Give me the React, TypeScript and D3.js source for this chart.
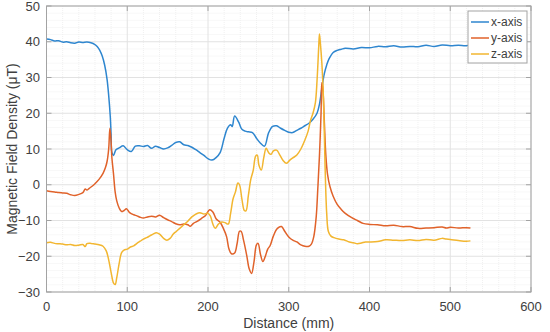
import * as d3 from 'd3';

const WIDTH = 550;
const HEIGHT = 332;
const MARGIN = { top: 6, right: 19, bottom: 40, left: 46.5 };

// x-axis component (blue)
const xDist = [0, 5, 10, 15, 20, 25, 30, 35, 40, 45, 50, 55, 60, 63, 66, 69, 72, 75, 77, 79, 80, 81, 83, 86, 90, 95, 100, 105, 110, 115, 120, 125, 130, 135, 140, 145, 150, 155, 160, 165, 170, 175, 180, 185, 190, 195, 200, 205, 210, 215, 220, 224, 228, 230, 233, 238, 242, 246, 250, 255, 260, 265, 270, 275, 280, 285, 290, 295, 300, 305, 310, 315, 320, 325, 330, 335, 338, 341, 344, 347, 350, 355, 360, 365, 370, 380, 390, 400, 410, 420, 430, 440, 450, 460, 470, 480, 490, 500, 510, 520, 525];
const xVals = [40.8, 40.6, 40.2, 40.3, 39.9, 40.0, 39.7, 39.6, 39.9, 39.8, 39.9, 39.7, 39.2, 38.6, 37.6, 36.0, 33.5, 29.5, 25, 19, 14, 9, 8.2, 9.8, 10.3, 10.9, 9.8, 9.3, 10.8, 10.9, 10.7, 11.0, 10.2, 10.8, 10.4, 10.0, 10.3, 11.0, 11.8, 12.0, 11.2, 11.0, 10.5, 9.8, 9.0, 8.2, 7.3, 6.9, 7.6, 9.0, 13.0, 15.8, 16.8, 16.3, 19.2, 17.5, 15.5, 15.0, 14.8, 14.6, 13.0, 11.6, 10.8, 14.5, 16.3, 16.5, 15.8, 15.2, 14.7, 14.6, 15.2, 15.8, 16.5, 17.2, 18.3, 20.0, 22.5, 27, 31, 33.5, 35.3, 37.0, 37.6, 37.9, 38.2, 38.0, 38.4, 38.3, 38.7, 38.6, 38.9, 38.5, 38.7, 38.6, 39.0, 38.7, 39.1, 38.9, 39.0, 38.9, 39.2];

// y-axis component (orange)
const yDist = [0, 5, 10, 15, 20, 25, 30, 35, 40, 45, 48, 50, 53, 56, 60, 65, 70, 73, 75, 77, 78.5, 80, 81, 83, 85, 87, 90, 93, 96, 99, 103, 108, 112, 116, 120, 125, 130, 135, 140, 145, 150, 155, 160, 165, 170, 175, 178, 182, 187, 192, 197, 202, 206, 210, 215, 219, 223, 226, 229, 233, 236, 239, 241, 244, 248, 251, 254, 257, 260, 262, 265, 268, 271, 274, 277, 281, 286, 291, 295, 300, 305, 310, 315, 320, 325, 328, 331, 334, 336, 338, 340, 341, 342, 344, 346, 348, 351, 355, 360, 365, 370, 378, 385, 392, 400, 410, 420, 430, 440, 450, 460, 470, 480, 490, 495, 500, 510, 520, 525];
const yVals = [-1.7, -1.9, -2.0, -2.2, -2.3, -2.4, -2.8, -3.0, -2.7, -2.2, -1.2, -1.5, -1.0, -0.5, 0.3, 1.5, 3.2, 4.8, 6.5, 10, 15.8, 12, 7.5, 3, -2, -4.5, -6.5, -7.5, -7.2, -6.7, -7.8, -8.4, -8.7, -9.1, -9.3, -9.0, -8.8, -9.0, -8.5, -9.2, -9.8, -10.3, -10.9, -11.2, -11.0, -11.2, -11.6, -10.8, -10.2, -9.4, -8.6, -7.0, -7.6, -9.5, -10.5, -12.2, -14.5, -18.0, -19.3, -19.1, -16.5, -13.0, -13.0, -15.5, -19.8, -23.5, -24.8, -21.5, -16.8, -16.4, -19.5, -21.5, -20.0, -18.0, -17.0, -14.3, -12.2, -11.7, -13, -14.6, -15.5, -16.0, -16.8, -17.2, -17.2, -16.6, -14.5, -9, -1, 8, 20, 28.5, 27.5, 18, 8, 3, -0.5, -3.2, -5.5, -6.9, -8.0, -9.2, -10.0, -10.8, -11.1, -11.2, -11.5, -11.3, -11.7, -11.7, -12.2, -12.1, -12.0, -11.8, -12.1, -11.9, -12.1, -12.0, -12.1];

// z-axis component (yellow)
const zDist = [0, 5, 10, 15, 20, 25, 30, 35, 40, 45, 48, 50, 55, 60, 65, 70, 74, 77, 80, 83, 85, 87, 90, 93, 96, 100, 104, 108, 112, 116, 120, 124, 128, 132, 136, 140, 145, 149, 153, 157, 161, 165, 170, 175, 180, 185, 190, 195, 200, 203, 206, 209, 213, 217, 221, 225, 228, 231, 234, 237, 239, 242, 245, 247, 250, 253, 256, 259, 261, 263, 266, 269, 272, 275, 278, 281, 285, 289, 293, 297, 301, 305, 310, 315, 320, 324, 327, 330, 333, 335, 337, 338, 339, 341, 343, 345, 347, 349, 352, 356, 362, 368, 375, 380, 385, 390, 395, 400, 410, 420, 430, 440, 450, 460, 470, 480, 490, 495, 500, 510, 520, 525];
const zVals = [-16.2, -16.1, -16.4, -16.5, -16.6, -16.8, -16.7, -17.0, -16.9, -16.7, -17.3, -16.5, -16.4, -16.6, -16.8, -17.2, -18.5, -21, -24.5, -27.5, -27.9, -26, -22, -19, -18.3, -18.0, -17.4, -17.1, -16.4, -15.8, -15.2, -14.8, -14.3, -13.8, -13.4, -13.8, -15.0, -15.5, -15.0, -13.8, -13.0, -12.2, -11.2, -10.2, -9.0, -8.2, -7.8, -8.2, -8.0, -8.8, -11.0, -12.2, -11.0, -10.4, -10.6, -11.0, -8, -4, -2, 0.5, 0, -4, -7.2, -7.3, -3, 1.5, 4, 8, 8.3, 5.5, 4.1, 7.5, 10.2, 9.0, 8.5, 9.5, 9.7, 8.3, 6.8, 6.0, 6.8, 7.5, 8.3, 10.0, 12.5, 15, 18, 20, 23, 29, 38, 42.2, 40, 34, 24, 5, -8, -13, -14.3, -14.8, -15.2, -15.4, -16.0, -16.2, -16.5, -16.3, -16.0, -16.0, -15.9, -15.4, -15.5, -15.6, -15.4, -15.6, -15.3, -15.5, -15.0, -15.2, -15.3, -15.6, -15.8, -15.7];

const xTicks = [0, 100, 200, 300, 400, 500, 600];
const yTicks = [-30, -20, -10, 0, 10, 20, 30, 40, 50];

const series = [
  { name: 'x-axis', dist: xDist, vals: xVals, color: '#2e86cf' },
  { name: 'y-axis', dist: yDist, vals: yVals, color: '#e0622a' },
  { name: 'z-axis', dist: zDist, vals: zVals, color: '#f2b630' },
];

const FONT = 'Liberation Sans, Arial, Helvetica, sans-serif';
const TEXT = '#404040';
const AXIS = '#a3a3a3';

const App = () => {
  const boundsWidth = WIDTH - MARGIN.left - MARGIN.right;
  const boundsHeight = HEIGHT - MARGIN.top - MARGIN.bottom;

  const xScale = d3.scaleLinear().domain([0, 600]).range([0, boundsWidth]);
  const yScale = d3.scaleLinear().domain([-30, 50]).range([boundsHeight, 0]);

  const line = d3
    .line<[number, number]>()
    .x((d) => xScale(d[0]))
    .y((d) => yScale(d[1]))
    .curve(d3.curveCatmullRom.alpha(0.5));

  const minorX = d3.range(0, 601, 20).filter((v) => v % 100 !== 0);
  const minorY = d3.range(-30, 51, 2).filter((v) => v % 10 !== 0);
  const fmt = d3.format('');

  return (
    <svg
      width={WIDTH}
      height={HEIGHT}
      style={{ position: 'absolute', left: 0, top: 0, background: '#fff' }}
      fontFamily={FONT}
    >
      <defs>
        <clipPath id="plot-clip">
          <rect x={0} y={0} width={boundsWidth} height={boundsHeight} />
        </clipPath>
      </defs>
      <g transform={`translate(${MARGIN.left},${MARGIN.top})`}>
        {/* minor grid */}
        {minorX.map((v) => (
          <line key={`mx${v}`} x1={xScale(v)} x2={xScale(v)} y1={0} y2={boundsHeight} stroke="#f0f0f0" strokeWidth={1} strokeDasharray="1,1" />
        ))}
        {minorY.map((v) => (
          <line key={`my${v}`} x1={0} x2={boundsWidth} y1={yScale(v)} y2={yScale(v)} stroke="#f0f0f0" strokeWidth={1} strokeDasharray="1,1" />
        ))}
        {/* major grid */}
        {xTicks.map((v) => (
          <line key={`gx${v}`} x1={xScale(v)} x2={xScale(v)} y1={0} y2={boundsHeight} stroke="#e2e2e2" strokeWidth={1} />
        ))}
        {yTicks.map((v) => (
          <line key={`gy${v}`} x1={0} x2={boundsWidth} y1={yScale(v)} y2={yScale(v)} stroke="#e2e2e2" strokeWidth={1} />
        ))}

        {/* data lines */}
        <g clipPath="url(#plot-clip)">
          {series.map((s) => (
            <path
              key={s.name}
              d={line(d3.zip(s.dist, s.vals) as [number, number][]) ?? ''}
              fill="none"
              stroke={s.color}
              strokeWidth={1.5}
              strokeLinejoin="round"
            />
          ))}
        </g>

        {/* box + ticks */}
        <rect x={0} y={0} width={boundsWidth} height={boundsHeight} fill="none" stroke={AXIS} strokeWidth={1} />
        {xTicks.map((v) => (
          <g key={`tx${v}`}>
            <line x1={xScale(v)} x2={xScale(v)} y1={boundsHeight} y2={boundsHeight - 5} stroke={AXIS} />
            <line x1={xScale(v)} x2={xScale(v)} y1={0} y2={5} stroke={AXIS} />
            <text x={xScale(v)} y={boundsHeight + 19} textAnchor="middle" fontSize={13} fill={TEXT}>
              {fmt(v)}
            </text>
          </g>
        ))}
        {yTicks.map((v) => (
          <g key={`ty${v}`}>
            <line x1={0} x2={5} y1={yScale(v)} y2={yScale(v)} stroke={AXIS} />
            <line x1={boundsWidth - 5} x2={boundsWidth} y1={yScale(v)} y2={yScale(v)} stroke={AXIS} />
            <text x={-6.5} y={yScale(v)} dy="0.36em" textAnchor="end" fontSize={13} fill={TEXT}>
              {fmt(v)}
            </text>
          </g>
        ))}

        {/* axis labels */}
        <text x={boundsWidth / 2} y={boundsHeight + 36} textAnchor="middle" fontSize={14} fill={TEXT}>
          Distance (mm)
        </text>
        <text
          transform={`translate(${-29.5},${boundsHeight / 2}) rotate(-90)`}
          textAnchor="middle"
          fontSize={14}
          fill={TEXT}
        >
          Magnetic Field Density (μT)
        </text>

        {/* legend */}
        <g transform={`translate(${boundsWidth - 63},${5})`}>
          <rect x={0} y={0} width={59} height={52} fill="#fff" stroke={AXIS} strokeWidth={1} />
          {series.map((s, i) => (
            <g key={s.name} transform={`translate(0,${11 + i * 16})`}>
              <line x1={3} x2={21} y1={0} y2={0} stroke={s.color} strokeWidth={1.5} />
              <text x={23} y={0} dy="0.36em" fontSize={12} fill={TEXT}>
                {s.name}
              </text>
            </g>
          ))}
        </g>
      </g>
    </svg>
  );
};

export default App;
